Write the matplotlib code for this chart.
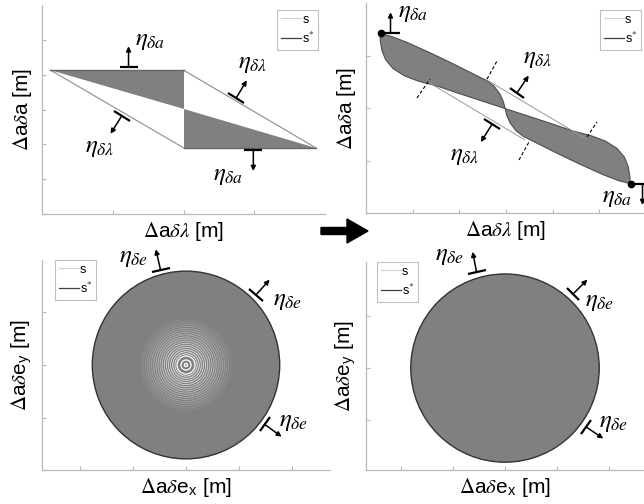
import numpy as np
import matplotlib
matplotlib.use('Agg')
import matplotlib.pyplot as plt
from matplotlib.lines import Line2D
from matplotlib.markers import MarkerStyle
from matplotlib.transforms import Affine2D
from matplotlib.patches import FancyArrow, Circle

plt.rcParams['font.family'] = ['Liberation Sans', 'DejaVu Sans']
plt.rcParams['mathtext.fontset'] = 'stix'

# ---- top-left: parallelogram s, gray triangles s*
para_x = [0.12, 2.0, 3.87, 2.0]
para_y = [4.13, 4.13, 1.9, 1.9]
mid_tl = [2.0, 3.015]

# ---- top-right: twisted lobes (offsets from centre, left lobe only)
centre_tr = [2.98, 1.99]
end_x = [0.315, 5.672]
end_y = [3.423, 0.552]
lobe_up_du = [0, -0.036, -0.107, -0.236, -0.392, -0.750, -1.108, -1.607, -2.106, -2.428, -2.678]
lobe_up_dv = [0, 0.128, 0.272, 0.425, 0.530, 0.690, 0.850, 1.062, 1.262, 1.372, 1.429]
lobe_lo_du = [-2.675, -2.64, -2.56, -2.40, -2.15, -1.85, -1.463, -0.964, -0.465, 0]
lobe_lo_dv = [1.30, 1.11, 0.93, 0.76, 0.62, 0.52, 0.43, 0.28, 0.135, 0]
s_up_x = [2.55, 4.72]
s_up_y = [2.555, 1.41]
s_lo_x = [1.30, 3.40]
s_lo_y = [2.51, 1.395]
dash_x0 = [1.093, 2.593, 3.278, 4.735]
dash_y0 = [2.19, 2.552, 1.01, 1.448]
dash_x1 = [1.371, 2.807, 3.493, 4.95]
dash_y1 = [2.552, 2.895, 1.352, 1.733]

# ---- bottom: circles
r_bl = 1.77
r_br = 1.81
ring_r = [0.03, 0.095, 0.17, 0.21, 0.25, 0.29, 0.33, 0.37, 0.41, 0.45, 0.49,
          0.53, 0.57, 0.61, 0.65, 0.69, 0.73, 0.77, 0.81, 0.85]
ring_a = [1.0, 1.0, 1.0, 0.9, 0.85, 0.8, 0.75, 0.7, 0.65, 0.6, 0.55,
          0.5, 0.45, 0.4, 0.35, 0.3, 0.25, 0.2, 0.15, 0.1]

# markers: x, y, normal angle, label, text dx, text dy (pixels)
eta_a = r'$\eta_{\delta a}$'
eta_l = r'$\eta_{\delta\lambda}$'
eta_e = r'$\eta_{\delta e}$'
marks_tl = [(1.223, 4.212, 90, eta_a, 6, 27),
            (2.742, 3.322, 59, eta_l, 2, 35),
            (1.126, 2.814, -122, eta_l, -37, -31),
            (2.987, 1.837, -90, eta_a, -40, -25)]
marks_tr = [(0.525, 3.423, 90, eta_a, 7, 21),
            (5.925, 0.552, -90, eta_a, -40, -13),
            (3.235, 2.286, 56, eta_l, 6, 35),
            (2.70, 1.69, -122, eta_l, -42, -31)]
marks_bl = [(1.86, 105, 103, eta_e, -42, 13),
            (1.86, 45, 48, eta_e, 17, -5),
            (1.86, -37, -36, eta_e, 14, 3)]
marks_br = [(1.92, 106.5, 101, eta_e, -42, 17),
            (1.92, 47.5, 45, eta_e, 12, -7),
            (1.92, -36, -34, eta_e, 13, 5)]

GRAY = '0.5'
DARK = '0.3'
LIGHT = '0.82'
SPINE = '0.72'


def setup(ax, xlim, ylim, xticks, yticks, xlabel, ylabel):
    ax.set_xlim(xlim)
    ax.set_ylim(ylim)
    ax.set_xticks(xticks)
    ax.set_yticks(yticks)
    ax.set_xticklabels([])
    ax.set_yticklabels([])
    for s in ['top', 'right']:
        ax.spines[s].set_visible(False)
    for s in ['left', 'bottom']:
        ax.spines[s].set_color(SPINE)
        ax.spines[s].set_linewidth(0.9)
    ax.tick_params(direction='in', length=3, color=SPINE, width=0.8)
    ax.set_xlabel(xlabel, fontsize=15, labelpad=1)
    ax.set_ylabel(ylabel, fontsize=15, labelpad=2)


def legend(ax, loc, anchor):
    h = [Line2D([], [], color=LIGHT, lw=0.8), Line2D([], [], color='0.25', lw=0.9)]
    lg = ax.legend(h, ['s', r's$^{*}$'], loc=loc, bbox_to_anchor=anchor, fontsize=9,
                   borderaxespad=0, borderpad=0.3, labelspacing=0.4, handlelength=1.6,
                   handletextpad=0.1, fancybox=False, framealpha=1)
    lg.get_frame().set_edgecolor('0.75')
    lg.get_frame().set_linewidth(0.8)


def eta_marker(ax, x, y, ang, label, tdx, tdy, arr=21):
    rad = np.deg2rad(ang)
    ax.plot(x, y, marker=MarkerStyle('_', transform=Affine2D().rotate_deg(ang - 90)),
            ms=13, mew=1.6, color='k', clip_on=False, zorder=5)
    ax.annotate('', xy=(x, y), xytext=(arr * np.cos(rad), arr * np.sin(rad)),
                textcoords='offset pixels', annotation_clip=False,
                arrowprops=dict(arrowstyle='<|-', color='k', lw=1.1, shrinkA=0, shrinkB=0,
                                mutation_scale=7))
    ax.annotate(label, xy=(x, y), xytext=(tdx, tdy), textcoords='offset pixels',
                ha='left', va='center', fontsize=18, annotation_clip=False)


fig = plt.figure(figsize=(6.44, 5.04), dpi=100)
W, H = 644, 504

ax1 = fig.add_axes([42 / W, (H - 214) / H, 283 / W, 209 / H])
ax2 = fig.add_axes([366 / W, (H - 213) / H, 280 / W, 210 / H])
ax3 = fig.add_axes([42 / W, (H - 470) / H, 288 / W, 210 / H])
ax4 = fig.add_axes([366 / W, (H - 470) / H, 278 / W, 208 / H])

lab_l = r'$\Delta$a$\delta\lambda$ [m]'
lab_a = r'$\Delta$a$\delta$a [m]'
lab_ex = r'$\Delta$a$\delta$e$_\mathregular{x}$ [m]'
lab_ey = r'$\Delta$a$\delta$e$_\mathregular{y}$ [m]'

# ---------------- top-left
setup(ax1, (0, 4), (0, 6), [1, 2, 3], [1, 2, 3, 4, 5], lab_l, lab_a)
ax1.fill([para_x[0], para_x[1], mid_tl[0]], [para_y[0], para_y[1], mid_tl[1]], color=GRAY, lw=0)
ax1.fill([mid_tl[0], para_x[3], para_x[2]], [mid_tl[1], para_y[3], para_y[2]], color=GRAY, lw=0)
ax1.plot([para_x[1], para_x[2]], [para_y[1], para_y[2]], color='0.55', lw=0.8)
ax1.plot([para_x[0], para_x[3]], [para_y[0], para_y[3]], color='0.55', lw=0.8)
ax1.plot(para_x[:2], para_y[:2], color='0.4', lw=1.0)
ax1.plot(para_x[2:], para_y[2:], color='0.4', lw=1.0)
for m in marks_tl:
    eta_marker(ax1, *m)
legend(ax1, 'upper right', (0.976, 0.976))

# ---------------- top-right
setup(ax2, (0, 6), (0, 4), [1, 2, 3, 4, 5], [1, 2, 3], lab_l, lab_a)
ax2.plot(s_up_x, s_up_y, color='0.6', lw=0.7)
ax2.plot(s_lo_x, s_lo_y, color='0.6', lw=0.7)
lx = np.array(lobe_up_du + lobe_lo_du)
ly = np.array(lobe_up_dv + lobe_lo_dv)
ax2.fill(centre_tr[0] + lx, centre_tr[1] + ly, facecolor=GRAY, edgecolor=DARK, lw=0.8)
ax2.fill(centre_tr[0] - lx, centre_tr[1] - ly, facecolor=GRAY, edgecolor=DARK, lw=0.8)
for i in range(len(dash_x0)):
    ax2.plot([dash_x0[i], dash_x1[i]], [dash_y0[i], dash_y1[i]], color='k', lw=0.8, ls=(0, (3, 2)))
ax2.plot(end_x, end_y, 'o', color='k', ms=4.5, zorder=6, clip_on=False)
for m in marks_tr:
    eta_marker(ax2, *m)
legend(ax2, 'upper right', (0.982, 0.967))

# ---------------- bottom-left
setup(ax3, (-2.72, 2.72), (-1.98, 1.98), [-2, -1, 0, 1, 2], [-1, 0, 1], lab_ex, lab_ey)
ax3.add_patch(Circle((0, 0), r_bl, facecolor=GRAY, edgecolor='0.2', lw=1.0))
for r, a in zip(ring_r, ring_a):
    ax3.add_patch(Circle((0, 0), r, fill=False, edgecolor='white', lw=0.9 if r < 0.2 else 0.6, alpha=a))
for r, th, ang, lab, tx, ty in marks_bl:
    t = np.deg2rad(th)
    eta_marker(ax3, r * np.cos(t), r * np.sin(t), ang, lab, tx, ty)
legend(ax3, 'upper left', (0.045, 1.0))

# ---------------- bottom-right
setup(ax4, (-2.67, 2.67), (-1.96, 2.04), [-2, -1, 0, 1, 2], [-1, 0, 1], lab_ex, lab_ey)
ax4.add_patch(Circle((0, 0), r_br, facecolor=GRAY, edgecolor='0.2', lw=1.0))
for r, th, ang, lab, tx, ty in marks_br:
    t = np.deg2rad(th)
    eta_marker(ax4, r * np.cos(t), r * np.sin(t), ang, lab, tx, ty)
legend(ax4, 'upper left', (0.04, 1.0))

# big arrow between the panels
fig.add_artist(FancyArrow(321 / W, (H - 231) / H, 47 / W, 0, width=7 / H, head_width=24 / H,
                          head_length=21 / W, length_includes_head=True, color='k',
                          transform=fig.transFigure))

fig.savefig('out.png', dpi=100)
